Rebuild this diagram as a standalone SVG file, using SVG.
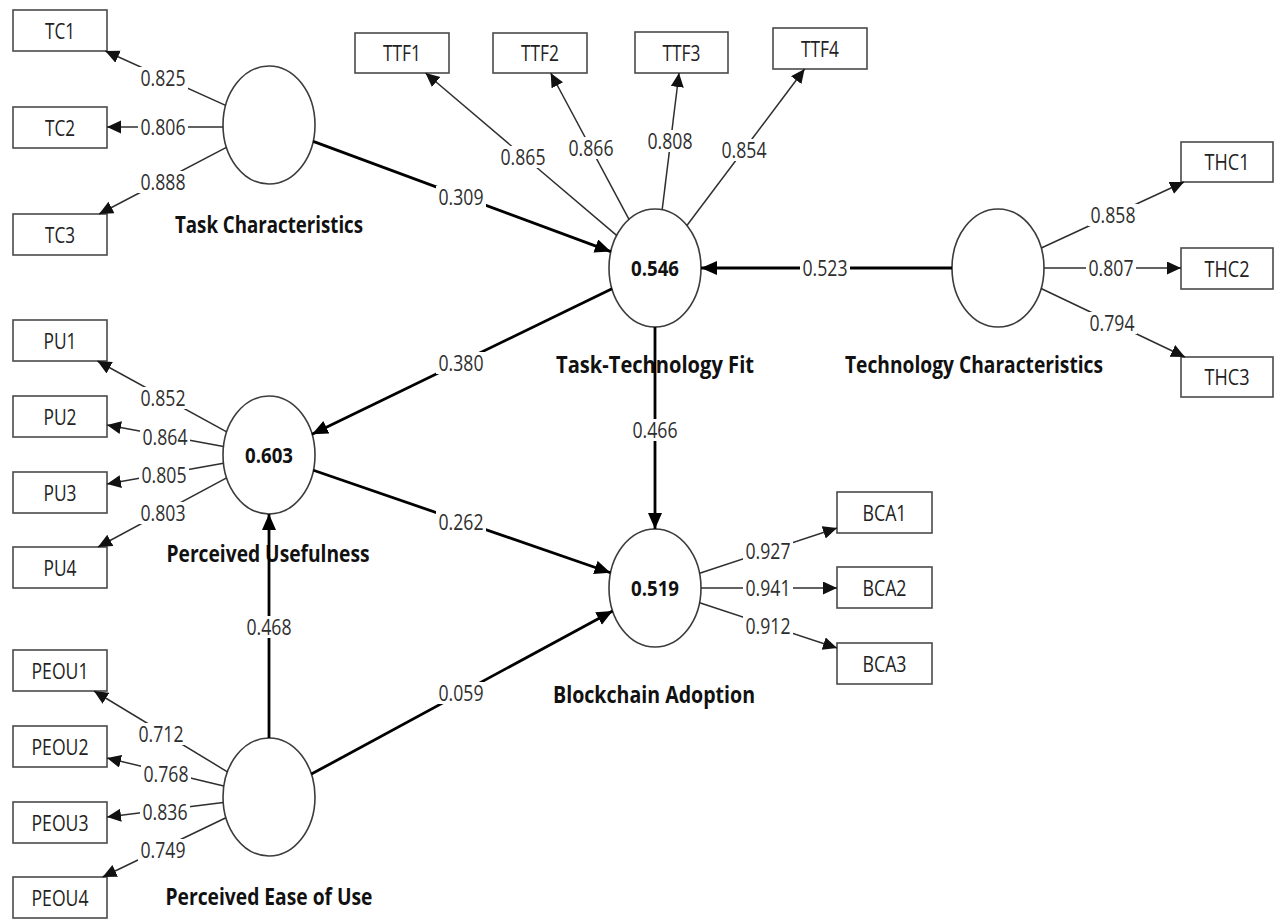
<svg xmlns="http://www.w3.org/2000/svg" width="1275" height="920" viewBox="0 0 1275 920">
  <defs>
    <style>
      text { font-family: "Open Sans", "Liberation Sans", sans-serif; text-anchor: middle; }
      .box { fill: #fff; stroke: #4a4a4a; stroke-width: 1.6; }
      .lv { fill: #fff; stroke: #3c3c3c; stroke-width: 1.6; }
      .blbl { font-size: 21px; fill: #222; }
      .name { font-size: 23px; font-weight: bold; fill: #111; }
      .r2 { font-size: 21px; font-weight: bold; fill: #111; }
      .ind { fill: none; stroke: #2e2e2e; stroke-width: 1.5; marker-end: url(#ah); }
      .path { fill: none; stroke: #000; stroke-width: 2.8; marker-end: url(#ahb); }
      .val rect { fill: #fff; }
      .val text { font-size: 22px; fill: #2e2e2e; }
    </style>
    <marker id="ah" markerUnits="userSpaceOnUse" markerWidth="15" markerHeight="14" refX="14" refY="6.5" orient="auto">
      <path d="M0,0 L14,6.5 L0,13 z" fill="#111"/>
    </marker>
    <marker id="ahb" markerUnits="userSpaceOnUse" markerWidth="18" markerHeight="16" refX="16" refY="7" orient="auto">
      <path d="M0,0 L16,7 L0,14 z" fill="#000"/>
    </marker>
  </defs>

  <rect width="1275" height="920" fill="#fff"/>

  <!-- latent constructs -->
  <g id="task-characteristics">
    <ellipse class="lv" cx="269" cy="125" rx="46" ry="59"/>
    <text class="name" x="269" y="233" textLength="188" lengthAdjust="spacingAndGlyphs">Task Characteristics</text>
  </g>
  <g id="task-technology-fit">
    <ellipse class="lv" cx="655" cy="268" rx="46" ry="59"/>
    <text class="r2" x="655" y="275.5" textLength="48" lengthAdjust="spacingAndGlyphs">0.546</text>
    <text class="name" x="655" y="373" textLength="198" lengthAdjust="spacingAndGlyphs">Task-Technology Fit</text>
  </g>
  <g id="technology-characteristics">
    <ellipse class="lv" cx="998" cy="268" rx="46" ry="59"/>
    <text class="name" x="974" y="373" textLength="258" lengthAdjust="spacingAndGlyphs">Technology Characteristics</text>
  </g>
  <g id="perceived-usefulness">
    <ellipse class="lv" cx="269" cy="455" rx="46" ry="59"/>
    <text class="r2" x="269" y="462.5" textLength="48" lengthAdjust="spacingAndGlyphs">0.603</text>
    <text class="name" x="268" y="562" textLength="203" lengthAdjust="spacingAndGlyphs">Perceived Usefulness</text>
  </g>
  <g id="blockchain-adoption">
    <ellipse class="lv" cx="655" cy="588" rx="46" ry="59"/>
    <text class="r2" x="655" y="595.5" textLength="48" lengthAdjust="spacingAndGlyphs">0.519</text>
    <text class="name" x="654" y="703" textLength="202" lengthAdjust="spacingAndGlyphs">Blockchain Adoption</text>
  </g>
  <g id="perceived-ease-of-use">
    <ellipse class="lv" cx="269" cy="797" rx="46" ry="59"/>
    <text class="name" x="269" y="905" textLength="207" lengthAdjust="spacingAndGlyphs">Perceived Ease of Use</text>
  </g>

  <!-- indicators -->
  <g id="TC1"><rect class="box" x="13" y="10" width="94" height="41"/><text class="blbl" x="60" y="38.5" textLength="30" lengthAdjust="spacingAndGlyphs">TC1</text></g>
  <g id="TC2"><rect class="box" x="13" y="107" width="94" height="41"/><text class="blbl" x="60" y="135.5" textLength="30" lengthAdjust="spacingAndGlyphs">TC2</text></g>
  <g id="TC3"><rect class="box" x="13" y="214" width="94" height="41"/><text class="blbl" x="60" y="242.5" textLength="30" lengthAdjust="spacingAndGlyphs">TC3</text></g>

  <g id="TTF1"><rect class="box" x="355" y="33" width="94" height="40"/><text class="blbl" x="402" y="60.5" textLength="38" lengthAdjust="spacingAndGlyphs">TTF1</text></g>
  <g id="TTF2"><rect class="box" x="493" y="33" width="94" height="40"/><text class="blbl" x="540" y="60.5" textLength="38" lengthAdjust="spacingAndGlyphs">TTF2</text></g>
  <g id="TTF3"><rect class="box" x="635" y="32" width="93" height="41"/><text class="blbl" x="681.5" y="60.5" textLength="38" lengthAdjust="spacingAndGlyphs">TTF3</text></g>
  <g id="TTF4"><rect class="box" x="773" y="28" width="94" height="41"/><text class="blbl" x="820" y="56.5" textLength="38" lengthAdjust="spacingAndGlyphs">TTF4</text></g>

  <g id="THC1"><rect class="box" x="1181" y="142" width="92" height="40"/><text class="blbl" x="1227" y="169.5" textLength="45" lengthAdjust="spacingAndGlyphs">THC1</text></g>
  <g id="THC2"><rect class="box" x="1181" y="248" width="92" height="41"/><text class="blbl" x="1227" y="276.5" textLength="45" lengthAdjust="spacingAndGlyphs">THC2</text></g>
  <g id="THC3"><rect class="box" x="1181" y="357" width="92" height="40"/><text class="blbl" x="1227" y="384.5" textLength="45" lengthAdjust="spacingAndGlyphs">THC3</text></g>

  <g id="PU1"><rect class="box" x="13" y="320" width="94" height="41"/><text class="blbl" x="60" y="348.5" textLength="33" lengthAdjust="spacingAndGlyphs">PU1</text></g>
  <g id="PU2"><rect class="box" x="13" y="396" width="94" height="41"/><text class="blbl" x="60" y="424.5" textLength="33" lengthAdjust="spacingAndGlyphs">PU2</text></g>
  <g id="PU3"><rect class="box" x="13" y="472" width="94" height="41"/><text class="blbl" x="60" y="500.5" textLength="33" lengthAdjust="spacingAndGlyphs">PU3</text></g>
  <g id="PU4"><rect class="box" x="13" y="547" width="94" height="41"/><text class="blbl" x="60" y="575.5" textLength="33" lengthAdjust="spacingAndGlyphs">PU4</text></g>

  <g id="BCA1"><rect class="box" x="837" y="492" width="95" height="41"/><text class="blbl" x="884.5" y="520.5" textLength="44" lengthAdjust="spacingAndGlyphs">BCA1</text></g>
  <g id="BCA2"><rect class="box" x="837" y="567" width="95" height="41"/><text class="blbl" x="884.5" y="595.5" textLength="44" lengthAdjust="spacingAndGlyphs">BCA2</text></g>
  <g id="BCA3"><rect class="box" x="837" y="643" width="95" height="41"/><text class="blbl" x="884.5" y="671.5" textLength="44" lengthAdjust="spacingAndGlyphs">BCA3</text></g>

  <g id="PEOU1"><rect class="box" x="13" y="650" width="94" height="41"/><text class="blbl" x="60" y="678.5" textLength="57" lengthAdjust="spacingAndGlyphs">PEOU1</text></g>
  <g id="PEOU2"><rect class="box" x="13" y="726" width="94" height="41"/><text class="blbl" x="60" y="754.5" textLength="57" lengthAdjust="spacingAndGlyphs">PEOU2</text></g>
  <g id="PEOU3"><rect class="box" x="13" y="802" width="94" height="41"/><text class="blbl" x="60" y="830.5" textLength="57" lengthAdjust="spacingAndGlyphs">PEOU3</text></g>
  <g id="PEOU4"><rect class="box" x="13" y="877" width="94" height="41"/><text class="blbl" x="60" y="905.5" textLength="57" lengthAdjust="spacingAndGlyphs">PEOU4</text></g>

  <!-- connectors: outer loadings (thin) and structural paths (thick) -->
  <g id="connectors">
    <line class="ind" x1="225.6" y1="105.4" x2="105.3" y2="51"/>
    <line class="ind" x1="223" y1="127" x2="107" y2="127"/>
    <line class="ind" x1="226.4" y1="147.3" x2="99.1" y2="214"/>

    <line class="ind" x1="616.6" y1="235.4" x2="425.5" y2="73"/>
    <line class="ind" x1="629" y1="219.3" x2="550.7" y2="73"/>
    <line class="ind" x1="662.2" y1="209.7" x2="679" y2="73"/>
    <line class="ind" x1="686.9" y1="225.5" x2="804.6" y2="69"/>

    <line class="ind" x1="1041.3" y1="248" x2="1184" y2="182"/>
    <line class="ind" x1="1044" y1="268" x2="1181" y2="268"/>
    <line class="ind" x1="1041.1" y1="288.5" x2="1185" y2="357"/>

    <line class="ind" x1="226.7" y1="431.8" x2="97.4" y2="361"/>
    <line class="ind" x1="223.5" y1="446.6" x2="107" y2="425"/>
    <line class="ind" x1="223.5" y1="463.2" x2="107" y2="484"/>
    <line class="ind" x1="226.6" y1="477.8" x2="98" y2="547"/>

    <line class="ind" x1="699.6" y1="573.3" x2="837" y2="528"/>
    <line class="ind" x1="701" y1="588" x2="837" y2="588"/>
    <line class="ind" x1="699.6" y1="602.7" x2="837" y2="648"/>

    <line class="ind" x1="227.4" y1="771.8" x2="94" y2="691"/>
    <line class="ind" x1="223.8" y1="786.1" x2="107" y2="758"/>
    <line class="ind" x1="223.2" y1="802.6" x2="107" y2="817"/>
    <line class="ind" x1="225.9" y1="817.7" x2="102.6" y2="877"/>

    <line class="path" x1="313.2" y1="141.4" x2="610.8" y2="251.6"/>
    <line class="path" x1="952" y1="268" x2="701" y2="268"/>
    <line class="path" x1="612" y1="288.8" x2="312" y2="434.2"/>
    <line class="path" x1="655" y1="327" x2="655" y2="529"/>
    <line class="path" x1="313.4" y1="470.2" x2="610.5" y2="572.7"/>
    <line class="path" x1="269" y1="738" x2="269" y2="514"/>
    <line class="path" x1="311.4" y1="774.1" x2="612.6" y2="610.9"/>

    <!-- coefficient labels -->
    <g class="val" transform="translate(163,78)"><rect x="-25" y="-11" width="50" height="22"/><text y="8" textLength="45" lengthAdjust="spacingAndGlyphs">0.825</text></g>
    <g class="val" transform="translate(163,127)"><rect x="-25" y="-11" width="50" height="22"/><text y="8" textLength="45" lengthAdjust="spacingAndGlyphs">0.806</text></g>
    <g class="val" transform="translate(163,182)"><rect x="-25" y="-11" width="50" height="22"/><text y="8" textLength="45" lengthAdjust="spacingAndGlyphs">0.888</text></g>

    <g class="val" transform="translate(523,157)"><rect x="-25" y="-11" width="50" height="22"/><text y="8" textLength="45" lengthAdjust="spacingAndGlyphs">0.865</text></g>
    <g class="val" transform="translate(591,148)"><rect x="-25" y="-11" width="50" height="22"/><text y="8" textLength="45" lengthAdjust="spacingAndGlyphs">0.866</text></g>
    <g class="val" transform="translate(670,141)"><rect x="-25" y="-11" width="50" height="22"/><text y="8" textLength="45" lengthAdjust="spacingAndGlyphs">0.808</text></g>
    <g class="val" transform="translate(744,150)"><rect x="-25" y="-11" width="50" height="22"/><text y="8" textLength="45" lengthAdjust="spacingAndGlyphs">0.854</text></g>

    <g class="val" transform="translate(1113,215)"><rect x="-25" y="-11" width="50" height="22"/><text y="8" textLength="45" lengthAdjust="spacingAndGlyphs">0.858</text></g>
    <g class="val" transform="translate(1111,268)"><rect x="-25" y="-11" width="50" height="22"/><text y="8" textLength="45" lengthAdjust="spacingAndGlyphs">0.807</text></g>
    <g class="val" transform="translate(1112,323)"><rect x="-25" y="-11" width="50" height="22"/><text y="8" textLength="45" lengthAdjust="spacingAndGlyphs">0.794</text></g>

    <g class="val" transform="translate(163,398)"><rect x="-25" y="-11" width="50" height="22"/><text y="8" textLength="45" lengthAdjust="spacingAndGlyphs">0.852</text></g>
    <g class="val" transform="translate(165,437)"><rect x="-25" y="-11" width="50" height="22"/><text y="8" textLength="45" lengthAdjust="spacingAndGlyphs">0.864</text></g>
    <g class="val" transform="translate(164,475)"><rect x="-25" y="-11" width="50" height="22"/><text y="8" textLength="45" lengthAdjust="spacingAndGlyphs">0.805</text></g>
    <g class="val" transform="translate(163,513)"><rect x="-25" y="-11" width="50" height="22"/><text y="8" textLength="45" lengthAdjust="spacingAndGlyphs">0.803</text></g>

    <g class="val" transform="translate(768,551)"><rect x="-25" y="-11" width="50" height="22"/><text y="8" textLength="45" lengthAdjust="spacingAndGlyphs">0.927</text></g>
    <g class="val" transform="translate(768,588)"><rect x="-25" y="-11" width="50" height="22"/><text y="8" textLength="45" lengthAdjust="spacingAndGlyphs">0.941</text></g>
    <g class="val" transform="translate(768,626)"><rect x="-25" y="-11" width="50" height="22"/><text y="8" textLength="45" lengthAdjust="spacingAndGlyphs">0.912</text></g>

    <g class="val" transform="translate(161,734)"><rect x="-25" y="-11" width="50" height="22"/><text y="8" textLength="45" lengthAdjust="spacingAndGlyphs">0.712</text></g>
    <g class="val" transform="translate(166,774)"><rect x="-25" y="-11" width="50" height="22"/><text y="8" textLength="45" lengthAdjust="spacingAndGlyphs">0.768</text></g>
    <g class="val" transform="translate(165,812)"><rect x="-25" y="-11" width="50" height="22"/><text y="8" textLength="45" lengthAdjust="spacingAndGlyphs">0.836</text></g>
    <g class="val" transform="translate(163,850)"><rect x="-25" y="-11" width="50" height="22"/><text y="8" textLength="45" lengthAdjust="spacingAndGlyphs">0.749</text></g>

    <g class="val" transform="translate(461,197)"><rect x="-25" y="-11" width="50" height="22"/><text y="8" textLength="45" lengthAdjust="spacingAndGlyphs">0.309</text></g>
    <g class="val" transform="translate(825,268)"><rect x="-25" y="-11" width="50" height="22"/><text y="8" textLength="45" lengthAdjust="spacingAndGlyphs">0.523</text></g>
    <g class="val" transform="translate(461,363)"><rect x="-25" y="-11" width="50" height="22"/><text y="8" textLength="45" lengthAdjust="spacingAndGlyphs">0.380</text></g>
    <g class="val" transform="translate(655,430)"><rect x="-25" y="-11" width="50" height="22"/><text y="8" textLength="45" lengthAdjust="spacingAndGlyphs">0.466</text></g>
    <g class="val" transform="translate(461,522)"><rect x="-25" y="-11" width="50" height="22"/><text y="8" textLength="45" lengthAdjust="spacingAndGlyphs">0.262</text></g>
    <g class="val" transform="translate(269,627)"><rect x="-25" y="-11" width="50" height="22"/><text y="8" textLength="45" lengthAdjust="spacingAndGlyphs">0.468</text></g>
    <g class="val" transform="translate(461,693)"><rect x="-25" y="-11" width="50" height="22"/><text y="8" textLength="45" lengthAdjust="spacingAndGlyphs">0.059</text></g>
  </g>
</svg>
